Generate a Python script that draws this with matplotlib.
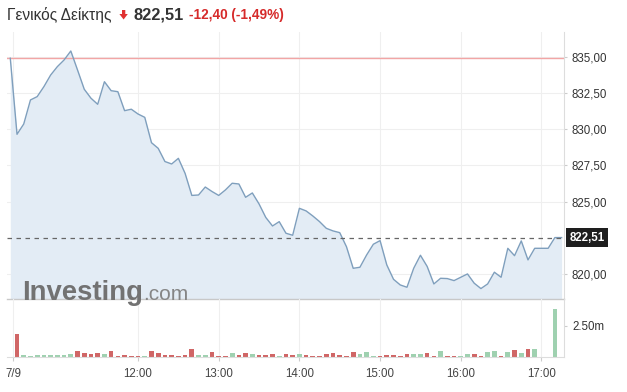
import matplotlib
matplotlib.use("Agg")
import matplotlib.pyplot as plt
from matplotlib.patches import Polygon
from matplotlib.ticker import FixedLocator, FuncFormatter

plt.rcParams["font.family"] = ["Liberation Sans", "DejaVu Sans"]

# -------------------------------
# Data (5-minute points from 10:25)
# -------------------------------
prices = [
    834.89, 829.64, 830.35, 832.01, 832.24, 832.93, 833.73, 834.31, 834.77, 835.39,
    834.08, 832.75, 832.13, 831.71, 833.27, 832.65, 832.58, 831.27, 831.37, 831.04,
    830.81, 829.06, 828.67, 827.76, 827.59, 827.98, 826.94, 825.42, 825.45, 826.00,
    825.69, 825.42, 825.80, 826.26, 826.21, 825.29, 825.59, 824.83, 823.90, 823.31,
    823.61, 822.81, 822.67, 824.53, 824.35, 824.00, 823.61, 823.15, 822.97, 822.85,
    821.88, 820.39, 820.46, 821.31, 822.05, 822.30, 820.62, 819.63, 819.24, 819.08,
    820.39, 821.29, 820.52, 819.31, 819.70, 819.68, 819.54, 819.77, 820.00, 819.36,
    818.99, 819.31, 820.12, 819.77, 821.77, 821.26, 822.28, 820.97, 821.77, 821.77,
    821.77, 822.51, 822.51,
]

# volume in millions
volumes = [
    0.00, 1.85, 0.14, 0.08, 0.14, 0.14, 0.14, 0.14, 0.14, 0.24,
    0.46, 0.32, 0.22, 0.32, 0.24, 0.46, 0.06, 0.16, 0.06, 0.06,
    0.06, 0.46, 0.32, 0.16, 0.16, 0.06, 0.16, 0.65, 0.14, 0.14,
    0.38, 0.06, 0.06, 0.30, 0.16, 0.30, 0.22, 0.14, 0.14, 0.22,
    0.06, 0.22, 0.16, 0.22, 0.14, 0.06, 0.06, 0.22, 0.36, 0.14,
    0.06, 0.44, 0.23, 0.44, 0.12, 0.06, 0.14, 0.14, 0.06, 0.22,
    0.22, 0.22, 0.35, 0.06, 0.51, 0.10, 0.06, 0.10, 0.22, 0.22,
    0.10, 0.43, 0.51, 0.10, 0.43, 0.54, 0.35, 0.62, 0.62, 0.00,
    0.00, 3.85, 0.00,
]

# u = up bar (green), d = down bar (red), - = no bar
vol_dir = list(
    "-duuuuuuuu"
    "dddduddddd"
    "uddddddduu"
    "dddudduddd"
    "uddudddddd"
    "dduuuddddd"
    "uuddudduud"
    "duudududu-"
    "-u-"
)
assert len(vol_dir) == len(prices) == len(volumes)

prev_close = 834.91
last_price = 822.51
change = -12.40
change_pct = -1.49

start_h = 10 + 25 / 60
times = [start_h + i * 5 / 60 for i in range(len(prices))]

hour_ticks = [10.45, 12, 13, 14, 15, 16, 17]
hour_labels = ["7/9", "12:00", "13:00", "14:00", "15:00", "16:00", "17:00"]
price_ticks = [820.0, 825.0, 827.5, 830.0, 832.5, 835.0]
vol_ticks = [2.5]

# -------------------------------
# Layout (pixel based)
# -------------------------------
W, H = 627, 392
fig = plt.figure(figsize=(W / 100, H / 100), dpi=100)
fig.patch.set_facecolor("white")


def px_box(x0, y0, x1, y1):
    return [x0 / W, 1 - y1 / H, (x1 - x0) / W, (y1 - y0) / H]


ax = fig.add_axes(px_box(7, 32, 564.3, 299))
axv = fig.add_axes(px_box(7, 299, 564.3, 357), sharex=ax)

xmin = start_h - 0.49 / 12
xmax = start_h + 82.4 / 12

grid_c = "#efefef"
text_c = "#333333"

# price panel
ax.fill_between(times, prices, 810, color="#e3ecf5", lw=0, zorder=1)
ax.plot(times, prices, color="#7f9fbd", lw=1.0, zorder=3)
ax.axhline(prev_close, color="#f2a5a5", lw=1.0, zorder=2)
ax.axhline(last_price, color="#666666", lw=0.9, ls=(0, (3.6, 3.6)), zorder=4)
ax.set_xlim(xmin, xmax)
ax.set_ylim(818.27, 820 + (274 - 32) / 14.49)

ax.yaxis.tick_right()
ax.yaxis.set_major_locator(FixedLocator(price_ticks))
ax.yaxis.set_major_formatter(FuncFormatter(lambda v, p: f"{v:.2f}".replace(".", ",")))
ax.tick_params(axis="y", length=2.5, width=0.8, color="#cccccc", pad=3,
               labelsize=8.3, labelcolor=text_c)
ax.tick_params(axis="x", length=0, labelbottom=False)
ax.xaxis.set_major_locator(FixedLocator(hour_ticks))
ax.grid(True, color=grid_c, lw=0.8, zorder=0)
ax.set_axisbelow(True)
for s in ["top", "left"]:
    ax.spines[s].set_visible(False)
ax.spines["right"].set_color("#dddddd")
ax.spines["bottom"].set_color("#c8c8c8")
ax.spines["bottom"].set_linewidth(1.0)

ax.annotate(f"{last_price:.2f}".replace(".", ","), xy=(1.0, last_price),
            xycoords=("axes fraction", "data"), xytext=(3.5, 0),
            textcoords="offset points", va="center", ha="left",
            color="white", fontsize=8.3, fontweight="bold",
            bbox=dict(boxstyle="square,pad=0.3", fc="#1e1e1e", ec="none"),
            annotation_clip=False)

# volume panel
bar_w = 0.7 / 12
vol_colors = ["#9fd1b0" if d == "u" else "#d06666" for d in vol_dir]
axv.bar(times, volumes, width=bar_w, color=vol_colors, lw=0, zorder=2)
axv.set_ylim(0, (357 - 299) / 31 * 2.5)
axv.yaxis.tick_right()
axv.yaxis.set_major_locator(FixedLocator(vol_ticks))
axv.yaxis.set_major_formatter(FuncFormatter(lambda v, p: f"{v:.2f}m"))
axv.tick_params(axis="y", length=2.5, width=0.8, color="#cccccc", pad=3,
                labelsize=8.3, labelcolor=text_c)
axv.xaxis.set_major_locator(FixedLocator(hour_ticks))
axv.set_xticklabels(hour_labels)
axv.tick_params(axis="x", length=3, width=0.8, color="#cccccc", pad=5,
                labelsize=8.3, labelcolor="#444444")
axv.grid(True, axis="x", color=grid_c, lw=0.8, zorder=0)
axv.set_axisbelow(True)
axv.patch.set_alpha(0)
for s in ["top", "left"]:
    axv.spines[s].set_visible(False)
axv.spines["right"].set_color("#dddddd")
axv.spines["bottom"].set_color("#dddddd")

# watermark
fig.text(22 / W, 1 - 300 / H, "Investing", fontsize=19.8, fontweight="bold",
         color="#727272", va="baseline", ha="left", zorder=5)
fig.text(143 / W, 1 - 300 / H, ".com", fontsize=15, color="#858585",
         va="baseline", ha="left", zorder=5)

# header
hy = 1 - 15 / H
fig.text(7 / W, hy, "Γενικός Δείκτης", fontsize=11.2, color="#333333", va="center")
arrow = Polygon(
    [(122 / W, 1 - 10 / H), (125.3 / W, 1 - 10 / H), (125.3 / W, 1 - 14 / H),
     (127.8 / W, 1 - 14 / H), (123.6 / W, 1 - 19.5 / H), (119.4 / W, 1 - 14 / H),
     (122 / W, 1 - 14 / H)],
    closed=True, transform=fig.transFigure, fc="#e03131", ec="none")
fig.add_artist(arrow)
fig.text(133 / W, hy, f"{last_price:.2f}".replace(".", ","), fontsize=11.8,
         fontweight="bold", color="#333333", va="center")
fig.text(189 / W, hy,
         f"{change:.2f}".replace(".", ",") + f" ({change_pct:.2f}%)".replace(".", ","),
         fontsize=9.8, fontweight="bold", color="#d62a2a", va="center")

fig.savefig("out.png", dpi=100)
